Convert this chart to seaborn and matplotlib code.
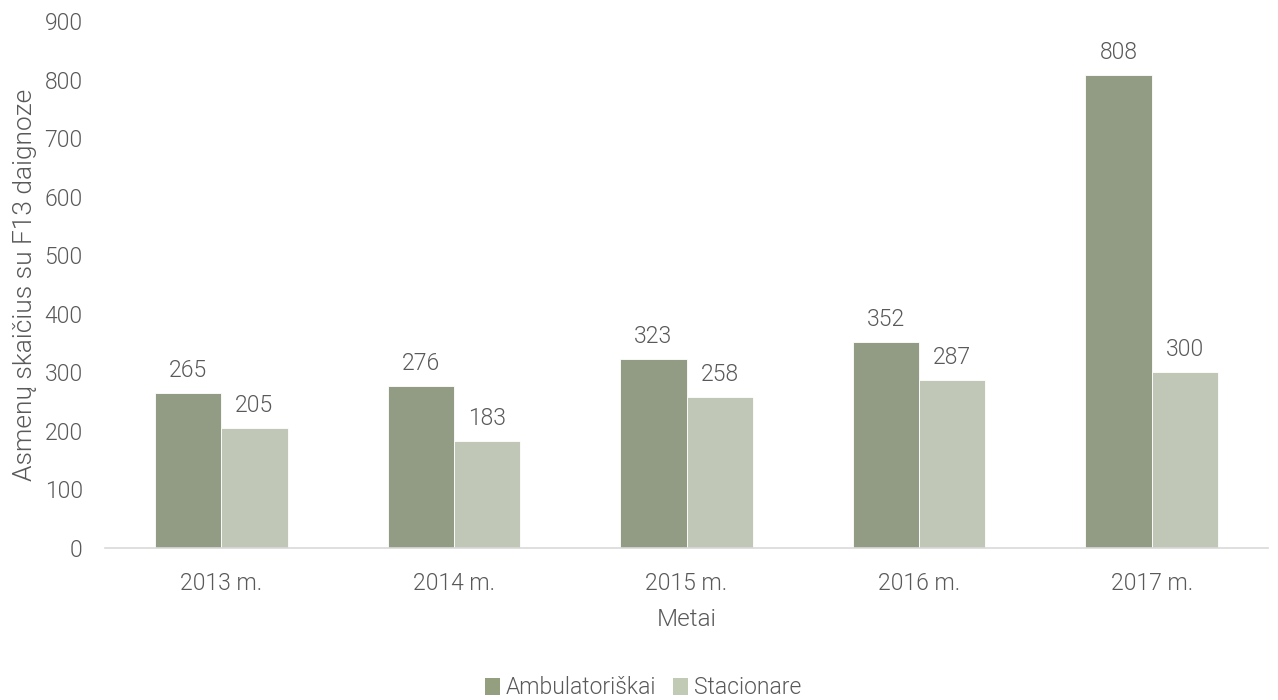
import matplotlib
matplotlib.use("Agg")
import matplotlib.pyplot as plt
import seaborn as sns
import pandas as pd
from matplotlib.patches import Patch

years = ["2013 m.", "2014 m.", "2015 m.", "2016 m.", "2017 m."]
ambulatoriskai = [265, 276, 323, 352, 808]
stacionare = [205, 183, 258, 287, 300]
series_names = ["Ambulatoriškai", "Stacionare"]
colors = ["#939F7F", "#C1CAB4"]

df = pd.DataFrame({
    "Metai": years * 2,
    "Reikšmė": ambulatoriskai + stacionare,
    "Tipas": [series_names[0]] * len(years) + [series_names[1]] * len(years),
})

sns.set_theme(style="white")
plt.rcParams["font.family"] = ["Roboto", "DejaVu Sans"]
text_color = "#595959"
weight = 300
fsize = 16.5

fig = plt.figure(figsize=(12.78, 7.0), dpi=100)
ax = fig.add_axes([105 / 1278, 1 - 548 / 700, (1268 - 105) / 1278, (548 - 21) / 700])

sns.barplot(data=df, x="Metai", y="Reikšmė", hue="Tipas", palette=colors,
            width=0.57, ax=ax, legend=False, edgecolor="white", linewidth=0.6)

for container in ax.containers:
    ax.bar_label(container, fmt="%d", padding=8, fontsize=fsize,
                 color=text_color, fontweight=weight)

ax.set_ylim(0, 900)
ax.set_yticks(range(0, 901, 100))
ax.set_xlim(-0.5, 4.5)
ax.tick_params(axis="both", labelsize=fsize, colors=text_color, length=0)
ax.tick_params(axis="x", pad=17)
ax.tick_params(axis="y", pad=16)
for lbl in ax.get_xticklabels() + ax.get_yticklabels():
    lbl.set_fontweight(weight)

for side in ["top", "right", "left"]:
    ax.spines[side].set_visible(False)
ax.spines["bottom"].set_color("#D9D9D9")
ax.spines["bottom"].set_linewidth(1.2)

ax.set_xlabel("Metai", fontsize=17.5, color=text_color, fontweight=weight)
ax.xaxis.set_label_coords(0.5, -(620 - 548) / 527)
ax.xaxis.label.set_va("center")
ax.set_ylabel("Asmenų skaičius su F13 daignoze", fontsize=19, color=text_color,
              fontweight=weight)
ax.yaxis.set_label_coords(-(105 - 25) / 1163, 0.5)
ax.yaxis.label.set_va("center")

handles = [Patch(facecolor=c, edgecolor="none") for c in colors]
fig.legend(handles, series_names, loc="center", bbox_to_anchor=(643 / 1278, 1 - 688 / 700),
           ncol=2, frameon=False, handlelength=0.65, handleheight=0.7,
           handletextpad=0.25, columnspacing=0.75, labelcolor=text_color,
           prop={"weight": weight, "size": fsize})

fig.savefig("out.png", dpi=100)
